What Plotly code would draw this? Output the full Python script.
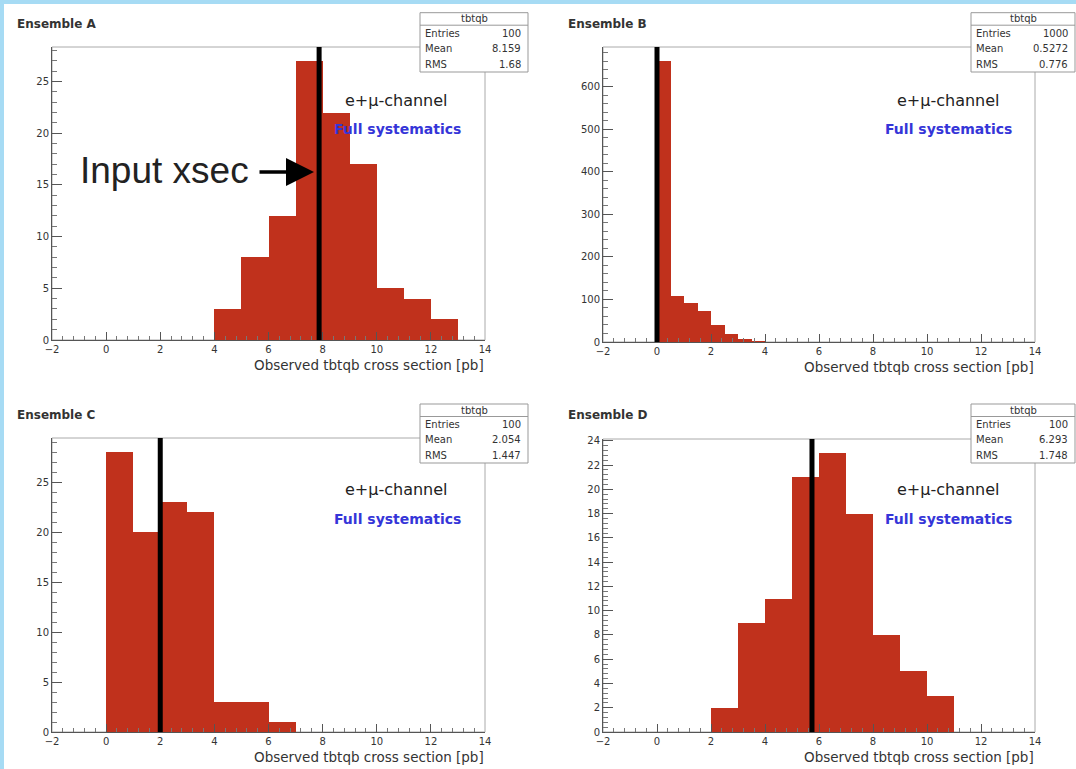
import plotly.graph_objects as go

W, H = 1076, 769

# ---------------- data ----------------
panel_titles = ["Ensemble A", "Ensemble B", "Ensemble C", "Ensemble D"]
bin_lo_A = [4, 5, 6, 7, 8, 9, 10, 11, 12]
counts_A = [3, 8, 12, 27, 22, 17, 5, 4, 2]
bin_lo_B = [0, 0.5, 1.0, 1.5, 2.0, 2.5, 3.0, 3.5]
counts_B = [660, 108, 92, 72, 40, 18, 8, 2]
bin_lo_C = [0, 1, 2, 3, 4, 5, 6]
counts_C = [28, 20, 23, 22, 3, 3, 1]
bin_lo_D = [2, 3, 4, 5, 6, 7, 8, 9, 10]
counts_D = [2, 9, 11, 21, 23, 18, 8, 5, 3]
bin_width = [1.0, 0.5, 1.0, 1.0]
input_xsec = [7.87, 0.0, 2.0, 5.74]
y_max = [28.35, 693, 29.4, 24.15]
y_major = [5, 100, 5, 2]
y_minor = [1, 20, 1, 0.4]
stats_name = "tbtqb"
stats_labels = ["Entries", "Mean", "RMS"]
stats_A = ["100", "8.159", "1.68"]
stats_B = ["1000", "0.5272", "0.776"]
stats_C = ["100", "2.054", "1.447"]
stats_D = ["100", "6.293", "1.748"]
x_tick_vals = [-2, 0, 2, 4, 6, 8, 10, 12, 14]
x_title = "Observed tbtqb cross section [pb]"
channel_label = "e+\u03bc-channel"
syst_label = "Full systematics"
arrow_label = "Input xsec"

bins = [bin_lo_A, bin_lo_B, bin_lo_C, bin_lo_D]
counts = [counts_A, counts_B, counts_C, counts_D]
stats = [stats_A, stats_B, stats_C, stats_D]

# ---------------- layout geometry (pixels) ----------------
# plot frames: left, right, top, bottom
frames = [(52, 485, 47, 340), (603, 1035, 47, 342),
          (52, 485, 438, 732), (603, 1035, 439, 732)]
boxes = [(420, 528, 12.7, 72), (971, 1075, 12.7, 72),
         (420, 528, 404, 463), (971, 1075, 404, 463)]
title_pos = [(15, 24), (566, 24), (15, 415), (566, 415)]
chan_pos = [(396, 100), (948, 100), (396, 490), (948, 490)]
syst_pos = [(397, 129), (948, 129), (397, 519), (948, 519)]


def px(x):
    return x / W


def py(y):
    return 1 - y / H


FONT = "DejaVu Sans"
BAR_COLOR = "#c0311c"

fig = go.Figure()
shapes = []
annotations = []
layout_axes = {}

for i in range(4):
    n = i + 1
    xa = "x" if n == 1 else f"x{n}"
    ya = "y" if n == 1 else f"y{n}"
    w = bin_width[i]
    centers = [b + w / 2 for b in bins[i]]
    fig.add_trace(go.Bar(x=centers, y=counts[i], width=w, xaxis=xa, yaxis=ya,
                         marker=dict(color=BAR_COLOR, line=dict(width=0)),
                         showlegend=False, hoverinfo="x+y"))
    l, r, t, b = frames[i]
    axis_common = dict(showline=True, linecolor="#555", linewidth=1,
                       ticks="inside", tickcolor="#555", showgrid=False,
                       zeroline=False, automargin=False,
                       tickfont=dict(family=FONT, size=10, color="#333"))
    layout_axes["xaxis" if n == 1 else f"xaxis{n}"] = dict(
        domain=[px(l), px(r)], anchor=ya, range=[-2, 14],
        tickmode="array", tickvals=x_tick_vals, ticklen=8,
        minor=dict(ticks="inside", ticklen=4, dtick=0.4, tick0=-2,
                   tickcolor="#777", showgrid=False),
        **axis_common)
    layout_axes["yaxis" if n == 1 else f"yaxis{n}"] = dict(
        domain=[py(b), py(t)], anchor=xa, range=[0, y_max[i]],
        tick0=0, dtick=y_major[i], ticklen=10,
        minor=dict(ticks="inside", ticklen=5, dtick=y_minor[i], tick0=0,
                   tickcolor="#777", showgrid=False),
        **axis_common)
    # frame
    shapes.append(dict(type="rect", xref=f"{xa} domain", yref=f"{ya} domain",
                       x0=0, x1=1, y0=0, y1=1,
                       line=dict(color="#aaa", width=1), layer="below"))
    # input cross-section line
    shapes.append(dict(type="line", xref=xa, yref=f"{ya} domain",
                       x0=input_xsec[i], x1=input_xsec[i], y0=0, y1=1,
                       line=dict(color="black", width=5), layer="above"))
    # stats box
    bl, br, bt, bb = boxes[i]
    sep = bt + 12.5
    shapes.append(dict(type="rect", xref="paper", yref="paper",
                       x0=px(bl), x1=px(br), y0=py(bb), y1=py(bt),
                       fillcolor="white", line=dict(color="#999", width=1),
                       layer="above"))
    shapes.append(dict(type="line", xref="paper", yref="paper",
                       x0=px(bl), x1=px(br), y0=py(sep), y1=py(sep),
                       line=dict(color="#999", width=1), layer="above"))
    annotations.append(dict(xref="paper", yref="paper", x=px((bl + br) / 2),
                            y=py((bt + sep) / 2), text=stats_name,
                            showarrow=False, xanchor="center", yanchor="middle",
                            font=dict(family=FONT, size=10, color="#333")))
    row_h = (bb - sep) / 3
    for k in range(3):
        yy = py(sep + row_h * (k + 0.5))
        annotations.append(dict(xref="paper", yref="paper", x=px(bl + 3), y=yy,
                                text=stats_labels[k], showarrow=False,
                                xanchor="left", yanchor="middle",
                                font=dict(family=FONT, size=10, color="#333")))
        annotations.append(dict(xref="paper", yref="paper", x=px(br - 5), y=yy,
                                text=stats[i][k], showarrow=False,
                                xanchor="right", yanchor="middle",
                                font=dict(family=FONT, size=10, color="#333")))
    # titles
    tx, ty = title_pos[i]
    annotations.append(dict(xref="paper", yref="paper", x=px(tx), y=py(ty),
                            text=f"<b>{panel_titles[i]}</b>", showarrow=False,
                            xanchor="left", yanchor="middle",
                            font=dict(family=FONT, size=12, color="#333")))
    # x title
    annotations.append(dict(xref="paper", yref="paper", x=px(r + 1),
                            y=py(b + 25), text=x_title, showarrow=False,
                            xanchor="right", yanchor="middle",
                            font=dict(family=FONT, size=13.5, color="#333")))
    cx, cy = chan_pos[i]
    annotations.append(dict(xref="paper", yref="paper", x=px(cx), y=py(cy),
                            text=channel_label, showarrow=False,
                            xanchor="center", yanchor="middle",
                            font=dict(family=FONT, size=16, color="#222")))
    sx, sy = syst_pos[i]
    annotations.append(dict(xref="paper", yref="paper", x=px(sx), y=py(sy),
                            text=f"<b>{syst_label}</b>", showarrow=False,
                            xanchor="center", yanchor="middle",
                            font=dict(family=FONT, size=14, color="#3535d8")))

# "Input xsec" label and arrow on panel A
annotations.append(dict(xref="paper", yref="paper", x=px(78), y=py(170),
                        text=arrow_label, showarrow=False, xanchor="left",
                        yanchor="middle",
                        font=dict(family="Liberation Sans", size=37,
                                  color="#222")))
annotations.append(dict(xref="paper", yref="paper", x=px(314), y=py(172),
                        ax=-56, ay=0, text="", showarrow=True, arrowhead=2,
                        arrowsize=1.6, arrowwidth=3.5, arrowcolor="black"))

# slide border (light blue)
shapes.append(dict(type="rect", xref="paper", yref="paper", x0=0, x1=1,
                   y0=py(4), y1=1, fillcolor="#a6dbf4", line=dict(width=0),
                   layer="below"))
shapes.append(dict(type="rect", xref="paper", yref="paper", x0=0, x1=px(4),
                   y0=0, y1=1, fillcolor="#a6dbf4", line=dict(width=0),
                   layer="below"))

fig.update_layout(width=W, height=H, margin=dict(l=0, r=0, t=0, b=0),
                  paper_bgcolor="white", plot_bgcolor="white", bargap=0,
                  shapes=shapes, annotations=annotations, showlegend=False,
                  **layout_axes)

fig.write_html("out.html")
